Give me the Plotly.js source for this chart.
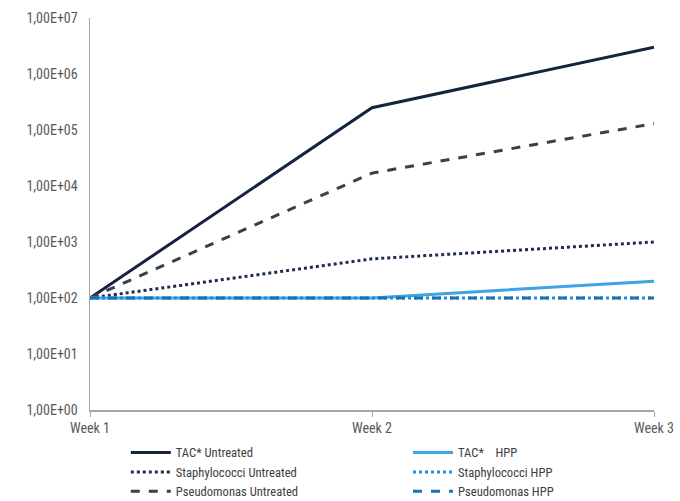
<!DOCTYPE html>
<html><head><meta charset="utf-8">
<script src="https://cdn.plot.ly/plotly-3.0.1.min.js"></script>
<style>html,body{margin:0;padding:0;background:#fff}#chart{width:680px;height:501px}</style>
</head><body><div id="chart"></div>
<script>
const weeks = ["Week 1", "Week 2", "Week 3"];
const tacUntreated = [100, 250000, 3000000];
const tacHPP = [100, 100, 200];
const staphUntreated = [100, 500, 1000];
const staphHPP = [100, 100, 100];
const pseudoUntreated = [100, 17000, 130000];
const pseudoHPP = [100, 100, 100];
const yTickVals = [1, 10, 100, 1000, 10000, 100000, 1000000, 10000000];
const yTickText = ["1,00E+00","1,00E+01","1,00E+02","1,00E+03","1,00E+04","1,00E+05","1,00E+06","1,00E+07"];

const xIdx = weeks.map((w,i)=>i);
const mk = (name, y, color, dash, width, leg) => ({
  type:'scatter', mode:'lines', name:name, x:xIdx, y:y, legend:leg,
  line:{color:color, dash:dash, width:width}
});
const traces = [
  mk("TAC* Untreated", tacUntreated, "#14243f", "solid", 3, 'legend'),
  mk("Staphylococci Untreated", staphUntreated, "#1d2e4d", "dot", 3, 'legend'),
  mk("Pseudomonas Untreated", pseudoUntreated, "#3b3f4b", "dash", 3, 'legend'),
  mk("TAC*    HPP", tacHPP, "#3fa3e6", "solid", 3, 'legend2'),
  mk("Staphylococci HPP", staphHPP, "#1e8fd8", "dot", 3, 'legend2'),
  mk("Pseudomonas HPP", pseudoHPP, "#1a72b0", "dash", 3, 'legend2')
];
const font = "'Liberation Sans Narrow', 'Roboto Condensed', 'DejaVu Sans Condensed', sans-serif";
const legBase = {orientation:'v', xref:'container', yref:'container', xanchor:'left', y:0.126, yanchor:'top',
          tracegroupgap:0, itemwidth:40, bgcolor:'rgba(0,0,0,0)', traceorder:'normal',
          font:{size:12.6, color:'#404040', family:font}};
const layout = {
  width:680, height:501,
  margin:{l:90, r:26, t:18, b:91, autoexpand:false},
  paper_bgcolor:'#fff', plot_bgcolor:'#fff',
  font:{family:font, color:'#595959', size:13},
  showlegend:true,
  xaxis:{range:[0,2], tickvals:xIdx, ticktext:weeks, showgrid:false, zeroline:false,
         showline:true, linecolor:'#a6a6a6', linewidth:1.5, ticks:'outside', ticklen:5, tickcolor:'#a6a6a6',
         tickfont:{size:14, color:'#595959', family:font}},
  yaxis:{type:'log', range:[0,7], tickvals:yTickVals, ticktext:yTickText, showgrid:false, zeroline:false,
         showline:true, linecolor:'#a6a6a6', linewidth:1.5, ticks:'', ticklabelstandoff:8,
         tickfont:{size:14, color:'#595959', family:font}},
  legend:Object.assign({}, legBase, {x:0.185}),
  legend2:Object.assign({}, legBase, {x:0.6})
};
Plotly.newPlot('chart', traces, layout, {displayModeBar:false, staticPlot:true});
</script></body></html>
